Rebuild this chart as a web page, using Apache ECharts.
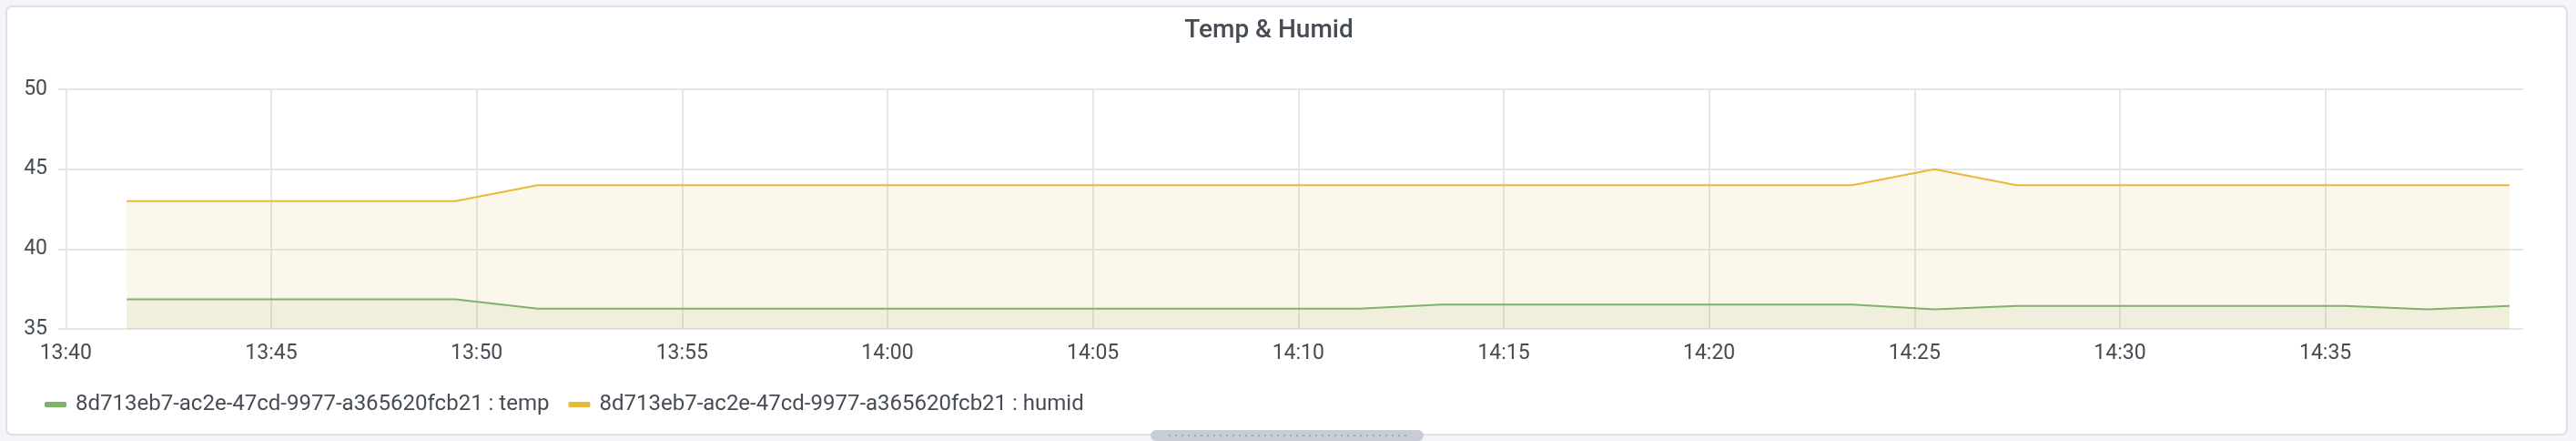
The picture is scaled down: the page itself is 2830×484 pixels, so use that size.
<!DOCTYPE html>
<html>
<head>
<meta charset="utf-8">
<script src="https://cdn.jsdelivr.net/npm/echarts@6/dist/echarts.min.js"></script>
<style>
  html, body { margin: 0; padding: 0; background: #f4f5f8; }
  #chart { width: 2830px; height: 484px; }
</style>
</head>
<body>
<div id="chart"></div>
<script>
// ---- data ----
const chartTitle = 'Temp & Humid';
const timeLabels = [
  '13:41:29', '13:43:29', '13:45:29', '13:47:29', '13:49:29',
  '13:51:29', '13:53:29', '13:55:29', '13:57:29', '13:59:29',
  '14:01:29', '14:03:29', '14:05:29', '14:07:29', '14:09:29',
  '14:11:29', '14:13:29', '14:15:29', '14:17:29', '14:19:29',
  '14:21:29', '14:23:29', '14:25:29', '14:27:29', '14:29:29',
  '14:31:29', '14:33:29', '14:35:29', '14:37:29', '14:39:29'
];
const tempValues = [
  36.85, 36.85, 36.85, 36.85, 36.85,
  36.27, 36.27, 36.27, 36.27, 36.27,
  36.27, 36.27, 36.27, 36.27, 36.27,
  36.27, 36.52, 36.52, 36.52, 36.52,
  36.52, 36.52, 36.22, 36.44, 36.44,
  36.44, 36.44, 36.44, 36.22, 36.44
];
const humidValues = [
  43, 43, 43, 43, 43,
  44, 44, 44, 44, 44,
  44, 44, 44, 44, 44,
  44, 44, 44, 44, 44,
  44, 44, 45, 44, 44,
  44, 44, 44, 44, 44
];
const seriesNames = [
  '8d713eb7-ac2e-47cd-9977-a365620fcb21 : temp',
  '8d713eb7-ac2e-47cd-9977-a365620fcb21 : humid'
];
const timeRange = ['13:39:49', '14:39:49'];
const yTicks = [35, 40, 45, 50];

// ---- helpers ----
function toMinutes(s) {
  const p = s.split(':').map(Number);
  return p[0] * 60 + p[1] + (p[2] || 0) / 60;
}
function fmtMinutes(v) {
  const r = Math.round(v);
  if (Math.abs(v - r) > 1e-6 || r % 5 !== 0) return '';
  const h = Math.floor(r / 60), m = r % 60;
  return h + ':' + (m < 10 ? '0' : '') + m;
}
const tempData = timeLabels.map((t, i) => [toMinutes(t), tempValues[i]]);
const humidData = timeLabels.map((t, i) => [toMinutes(t), humidValues[i]]);

const textColor = '#464c54';
const gridColor = '#e6e6e6';
const fontFamily = 'Roboto, "Noto Sans", sans-serif';

const chart = echarts.init(document.getElementById('chart'), null, { renderer: 'canvas' });
chart.setOption({
  animation: false,
  backgroundColor: 'transparent',
  graphic: [
    {
      type: 'rect', z: -10, silent: true,
      shape: { x: 7, y: 7, width: 2813, height: 470, r: 6 },
      style: { fill: '#ffffff', stroke: '#dde0e6', lineWidth: 2 }
    },
    {
      type: 'text', silent: true,
      x: 1394, y: 34,
      style: {
        text: chartTitle, fill: textColor, font: '500 28px ' + fontFamily,
        align: 'center', verticalAlign: 'middle'
      }
    },
    {
      type: 'rect', silent: true, z: 10,
      shape: { x: 1264, y: 472, width: 300, height: 12, r: 6 },
      style: { fill: '#c8cdd5' }
    },
    {
      type: 'line', silent: true, z: 11,
      shape: { x1: 1284, y1: 478, x2: 1546, y2: 478 },
      style: { stroke: '#a3a9b2', lineWidth: 2, lineDash: [2, 5] }
    }
  ],
  grid: { left: 64, right: 58, top: 98, bottom: 123, containLabel: false },
  legend: {
    left: 44, top: 427,
    icon: 'roundRect', itemWidth: 24, itemHeight: 6, itemGap: 21,
    selectedMode: false,
    textStyle: { color: textColor, fontSize: 24, fontFamily: fontFamily, padding: [0, 0, 0, 5] },
    data: seriesNames
  },
  xAxis: {
    type: 'value',
    min: toMinutes(timeRange[0]),
    max: toMinutes(timeRange[1]),
    minInterval: 5, maxInterval: 5, splitNumber: 12,
    axisLine: { show: false },
    axisTick: { show: false },
    axisLabel: {
      color: textColor, fontSize: 23, fontFamily: fontFamily, margin: 16,
      showMinLabel: false, showMaxLabel: false,
      formatter: fmtMinutes
    },
    splitLine: { show: true, showMinLine: false, showMaxLine: false, lineStyle: { color: gridColor, width: 2 } }
  },
  yAxis: {
    type: 'value', min: yTicks[0], max: yTicks[yTicks.length - 1], interval: 5,
    axisLine: { show: false },
    axisTick: { show: false },
    axisLabel: { color: textColor, fontSize: 23, fontFamily: fontFamily, margin: 12 },
    splitLine: { show: true, lineStyle: { color: gridColor, width: 2 } }
  },
  series: [
    {
      name: seriesNames[0], type: 'line', data: tempData,
      symbol: 'none', color: '#7eb26d',
      lineStyle: { width: 2, color: '#7eb26d' },
      areaStyle: { color: 'rgb(130,168,112)', opacity: 0.1 }
    },
    {
      name: seriesNames[1], type: 'line', data: humidData,
      symbol: 'none', color: '#eab839',
      lineStyle: { width: 2, color: '#eab839' },
      areaStyle: { color: 'rgb(222,180,70)', opacity: 0.1 }
    }
  ]
});
</script>
</body>
</html>
